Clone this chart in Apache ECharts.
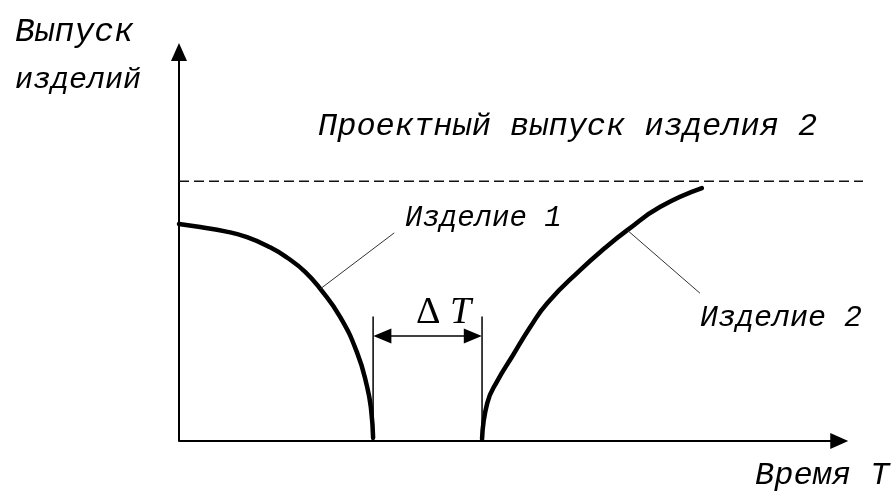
<!DOCTYPE html>
<html>
<head>
<meta charset="utf-8">
<script src="https://cdn.jsdelivr.net/npm/echarts@6/dist/echarts.min.js"></script>
<style>html,body{margin:0;padding:0;background:#fff}#c{width:895px;height:493px}</style>
</head>
<body>
<div id="c"></div>
<script>
// Product 1 output curve (time, output)
const product1 = [[0,55.8],[3.2,55.0],[7.0,53.9],[10.3,52.4],[13.8,49.8],[16.4,47.1],[19.1,43.5],[21.4,39.1],[24.4,31.9],[27.0,22.6],[28.5,13.9],[29.1,8.0],[29.4,0.8]];
// Product 2 output curve
const product2 = [[45.9,0.5],[46.7,9.8],[48.2,15.4],[50.6,22.1],[53.2,29.3],[55.8,35.5],[60.8,44.0],[64.5,49.6],[67.9,54.2],[72.9,60.2],[79.2,65.0]];
// Design output of product 2
const designLevel = 66.8;
const designSpan = [0, 103.6];
// Time axis arrow end
const timeAxisEnd = 100;
// Gap ΔT between the two products
const gapStart = 29.4;
const gapEnd = 45.9;
const gapLineTop = 32;
const gapArrowY = 27;
// Leader lines for the labels
const leader1 = [[21.4,39.1],[32.6,53.5]];
const leader2 = [[67.9,54.2],[78.9,38.0]];
// Texts
const yTitle = ['Выпуск', 'изделий'];
const xTitle = 'Время Т';
const designText = 'Проектный выпуск изделия 2';
const name1 = 'Изделие 1';
const name2 = 'Изделие 2';

const f = s => 'italic ' + s + 'px "Liberation Mono", monospace';
const chart = echarts.init(document.getElementById('c'), null, {renderer: 'canvas'});
const thick = {color: '#000', width: 4.5, cap: 'round', join: 'round'};
chart.setOption({
  animation: false,
  backgroundColor: '#fff',
  grid: {left: 179, right: 32, top: 52, bottom: 52},
  xAxis: {type: 'value', min: 0, max: designSpan[1], axisLine: {show: false},
    axisTick: {show: false}, axisLabel: {show: false}, splitLine: {show: false}},
  yAxis: {type: 'value', min: 0, max: 100,
    axisLine: {show: true, onZero: false, symbol: ['none', 'triangle'], symbolSize: [16, 18], lineStyle: {color: '#000', width: 2}},
    axisTick: {show: false}, axisLabel: {show: false}, splitLine: {show: false}},
  series: [
    {type: 'line', data: product1, smooth: 0.5, showSymbol: false, lineStyle: thick},
    {type: 'line', data: product2, smooth: 0.5, showSymbol: false, lineStyle: thick},
    {type: 'line', data: [[designSpan[0], designLevel],[designSpan[1], designLevel]], showSymbol: false, clip: false,
      lineStyle: {color: '#111', width: 1.5, type: [10, 5]}},
    {type: 'line', data: leader1, showSymbol: false, lineStyle: {color: '#333', width: 1}},
    {type: 'line', data: leader2, showSymbol: false, lineStyle: {color: '#333', width: 1}},
    {type: 'line', data: [[gapStart, 0],[gapStart, gapLineTop]], showSymbol: false, lineStyle: {color: '#000', width: 1.5},
      markLine: {silent: true, symbol: ['none', 'triangle'], symbolSize: [16, 18], label: {show: false},
        lineStyle: {color: '#000', width: 2, type: 'solid'},
        data: [[{coord: [0, 0]}, {coord: [timeAxisEnd, 0]}]]}},
    {type: 'line', data: [[gapEnd, 0],[gapEnd, gapLineTop]], showSymbol: false, lineStyle: {color: '#000', width: 1.5},
      markLine: {silent: true, symbol: ['triangle', 'triangle'], symbolSize: [15, 18], label: {show: false},
        lineStyle: {color: '#000', width: 1.5, type: 'solid'},
        data: [[{coord: [gapStart + 1.4, gapArrowY]}, {coord: [gapEnd - 1.4, gapArrowY]}]]}}
  ],
  graphic: [
    {type: 'text', x: 15, y: 32, style: {text: yTitle[0], font: f(33), fill: '#000', verticalAlign: 'middle'}},
    {type: 'text', x: 15, y: 80, style: {text: yTitle[1], font: f(30), fill: '#000', verticalAlign: 'middle'}},
    {type: 'text', x: 318, y: 127, style: {text: designText, font: f(32), fill: '#000', verticalAlign: 'middle'}},
    {type: 'text', x: 405, y: 218, style: {text: name1, font: f(29), fill: '#000', verticalAlign: 'middle'}},
    {type: 'text', x: 700, y: 318, style: {text: name2, font: f(30), fill: '#000', verticalAlign: 'middle'}},
    {type: 'text', x: 755, y: 476, style: {text: xTitle, font: f(32), fill: '#000', verticalAlign: 'middle'}},
    {type: 'text', x: 416, y: 313, style: {text: '{d|Δ}{t| T}', verticalAlign: 'middle', fill: '#000',
      rich: {d: {font: '38px "Liberation Serif", serif', fill: '#000'}, t: {font: 'italic 38px "Liberation Serif", serif', fill: '#000'}}}}
  ]
});
</script>
</body>
</html>
